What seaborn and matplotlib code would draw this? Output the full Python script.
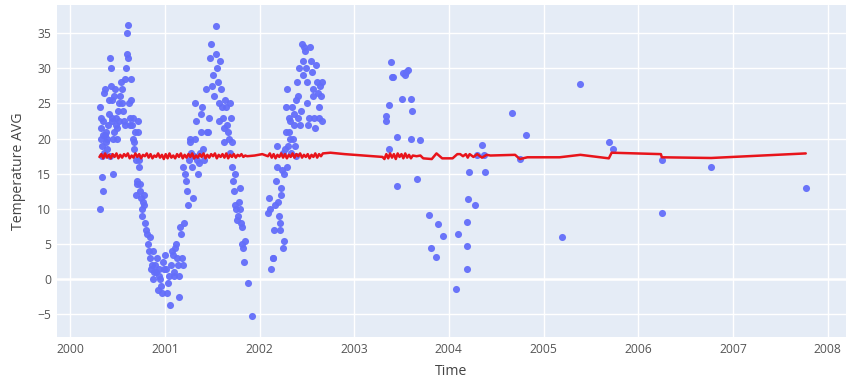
import numpy as np
import pandas as pd
import matplotlib
matplotlib.use("Agg")
import matplotlib.pyplot as plt
import matplotlib.dates as mdates
import seaborn as sns

# Daily average temperature readings (decimal year, degrees)
obs_years = [
    2000.318, 2000.320, 2000.323, 2000.326, 2000.329, 2000.332, 2000.335, 2000.339, 2000.343, 2000.347, 2000.351, 2000.355,
    2000.362, 2000.368, 2000.372, 2000.377, 2000.383, 2000.388, 2000.394, 2000.400, 2000.406, 2000.413, 2000.418,
    2000.424, 2000.430, 2000.434, 2000.438, 2000.442, 2000.447, 2000.452, 2000.456, 2000.461,
    2000.468, 2000.474, 2000.480, 2000.486, 2000.492, 2000.499, 2000.506, 2000.513, 2000.520,
    2000.531, 2000.538, 2000.546, 2000.553, 2000.561, 2000.569, 2000.577, 2000.585,
    2000.594, 2000.600, 2000.606, 2000.610, 2000.615, 2000.621, 2000.628, 2000.635, 2000.641,
    2000.648, 2000.654, 2000.660, 2000.666, 2000.673, 2000.680, 2000.688, 2000.694,
    2000.699, 2000.704, 2000.709, 2000.713, 2000.718, 2000.723, 2000.729, 2000.735,
    2000.742, 2000.749, 2000.756, 2000.763, 2000.770, 2000.778, 2000.786,
    2000.796, 2000.804, 2000.812, 2000.821, 2000.830, 2000.839,
    2000.848, 2000.856, 2000.864, 2000.872, 2000.881, 2000.890,
    2000.902, 2000.910, 2000.918, 2000.926, 2000.935, 2000.944,
    2000.955, 2000.964, 2000.973, 2000.982, 2000.993,
    2001.006, 2001.016, 2001.026, 2001.036, 2001.046,
    2001.060, 2001.068, 2001.076, 2001.084, 2001.093, 2001.102,
    2001.113, 2001.121, 2001.130, 2001.139, 2001.147, 2001.155,
    2001.165, 2001.172, 2001.180, 2001.188, 2001.198, 2001.207,
    2001.218, 2001.227, 2001.236, 2001.245, 2001.254, 2001.262,
    2001.270, 2001.279, 2001.288, 2001.297, 2001.306, 2001.315,
    2001.324, 2001.333, 2001.342, 2001.351, 2001.360, 2001.368,
    2001.378, 2001.388, 2001.398, 2001.408, 2001.418,
    2001.432, 2001.445, 2001.458, 2001.470,
    2001.483, 2001.493, 2001.503, 2001.513, 2001.524,
    2001.540, 2001.546, 2001.554, 2001.562, 2001.570, 2001.578,
    2001.588, 2001.596, 2001.605, 2001.614, 2001.623, 2001.631,
    2001.641, 2001.650, 2001.659, 2001.668, 2001.677, 2001.685,
    2001.693, 2001.700, 2001.707, 2001.715, 2001.722, 2001.730, 2001.738,
    2001.746, 2001.755, 2001.764, 2001.773, 2001.782, 2001.790,
    2001.798, 2001.805, 2001.813, 2001.820, 2001.828, 2001.835, 2001.843,
    2001.880, 2001.922,
    2002.095, 2002.105, 2002.115, 2002.125, 2002.138, 2002.148,
    2002.158, 2002.166, 2002.174, 2002.182, 2002.190, 2002.198, 2002.206, 2002.213,
    2002.221, 2002.227, 2002.233, 2002.239, 2002.245, 2002.251, 2002.257, 2002.263, 2002.269, 2002.276,
    2002.284, 2002.290, 2002.296, 2002.302, 2002.308, 2002.314, 2002.321, 2002.328, 2002.336,
    2002.347, 2002.354, 2002.361, 2002.368, 2002.375, 2002.382, 2002.389, 2002.396, 2002.403,
    2002.411, 2002.419, 2002.427, 2002.435, 2002.447, 2002.455, 2002.463,
    2002.474, 2002.482, 2002.490, 2002.498, 2002.507, 2002.516, 2002.525,
    2002.537, 2002.545, 2002.553, 2002.562, 2002.571, 2002.580, 2002.590,
    2002.601, 2002.609, 2002.617, 2002.625, 2002.633, 2002.641, 2002.650, 2002.658, 2002.666,
    2003.332, 2003.336, 2003.369, 2003.372, 2003.390, 2003.400, 2003.408, 2003.450, 2003.456,
    2003.506, 2003.516, 2003.537, 2003.550, 2003.569, 2003.598, 2003.598, 2003.608, 2003.667,
    2003.696, 2003.794, 2003.817, 2003.860, 2003.883, 2003.944,
    2004.076, 2004.097, 2004.189, 2004.197, 2004.197, 2004.206, 2004.216, 2004.277, 2004.294,
    2004.351, 2004.372, 2004.385, 2004.664, 2004.752, 2004.812,
    2005.199, 2005.385, 2005.695, 2005.731, 2006.248, 2006.248, 2006.769, 2007.769,
]
obs_temps = [
    10.0, 24.5, 23.0, 21.5, 20.0, 19.0, 17.5, 14.5, 12.5, 22.5, 20.5, 18.0,
    26.5, 27.0, 20.5, 19.5, 21.0, 18.5, 20.0, 22.0, 25.5, 23.5, 17.5,
    31.5, 30.0, 27.5, 25.5, 23.0, 22.5, 15.0, 20.0, 21.0,
    26.0, 27.0, 23.0, 22.0, 21.5, 20.0, 24.0, 25.0, 22.5,
    26.0, 28.0, 27.0, 25.0, 24.0, 22.5, 22.0, 28.5,
    30.0, 32.0, 35.0, 36.2, 31.5, 25.0, 23.0, 22.0, 28.5,
    25.5, 22.0, 20.0, 23.0, 18.5, 19.5, 21.0, 17.0,
    12.0, 13.5, 14.0, 22.5, 21.0, 17.0, 16.0, 12.5,
    13.5, 11.5, 10.0, 9.0, 11.0, 10.5, 12.0,
    8.0, 7.0, 6.5, 5.0, 4.0, 6.0,
    3.0, 1.5, 2.0, 0.0, 4.0, 1.0,
    2.0, 1.0, 3.0, -1.5, 1.5, 0.5,
    0.0, -1.0, -2.0, 2.5, 1.5,
    3.5, 1.5, -2.0, -0.5, 0.5,
    -3.6, 2.0, 4.0, 3.5, 1.0, 0.5,
    4.5, 5.0, 3.0, 2.0, -2.5, 0.5,
    7.5, 6.5, 3.0, 2.0, 16.0, 8.0,
    15.0, 14.0, 12.5, 10.5, 17.0, 20.0,
    19.5, 18.0, 16.0, 11.5, 17.5, 20.0,
    25.0, 22.5, 17.0, 15.0, 16.5, 18.0,
    21.0, 23.5, 24.5, 18.5, 17.0,
    27.0, 21.0, 21.0, 23.0,
    31.5, 33.5, 27.5, 29.0, 26.0,
    36.0, 32.0, 30.0, 28.0, 25.0, 22.5,
    31.0, 27.0, 24.5, 23.0, 21.5, 19.5,
    25.5, 24.5, 22.0, 21.0, 20.0, 18.0,
    25.0, 23.0, 19.5, 16.0, 14.0, 12.5, 10.5,
    15.0, 10.0, 8.5, 9.0, 11.0, 13.0,
    10.0, 8.0, 7.5, 5.0, 4.5, 2.5, 5.5,
    -0.5, -5.2,
    9.5, 11.5, 10.0, 1.5, 3.0, 3.0,
    7.0, 10.5, 14.0, 16.0, 19.0, 11.0, 9.0, 8.0,
    7.0, 12.0, 13.0, 15.5, 18.0, 4.5, 5.5, 15.0, 18.5, 21.0,
    24.5, 27.0, 16.0, 19.0, 21.0, 23.0, 22.5, 20.0, 18.0,
    24.5, 20.0, 22.0, 23.5, 19.0, 17.5, 25.5, 28.0, 23.0,
    26.0, 30.0, 22.0, 24.0, 33.5, 31.0, 29.0,
    33.0, 32.5, 30.0, 28.0, 25.0, 22.0, 23.0,
    33.0, 31.0, 29.5, 27.0, 26.0, 23.0, 21.5,
    30.5, 28.0, 26.5, 24.5, 23.0, 27.5, 26.0, 28.0, 22.5,
    22.5, 23.2, 24.8, 18.5, 30.9, 28.7, 28.8, 20.3, 13.3,
    25.6, 29.3, 29.0, 29.5, 29.8, 25.6, 19.9, 24.0, 14.3,
    19.8, 9.2, 4.5, 3.2, 7.8, 6.1,
    -1.4, 6.5, 1.4, 4.8, 8.1, 11.4, 15.2, 10.5, 17.7,
    19.1, 17.7, 15.2, 23.6, 17.1, 20.5,
    6.0, 27.7, 19.5, 18.5, 16.9, 9.5, 16.0, 13.0,
]

# Moving average of the readings (decimal year, degrees)
trend_years = [
    2000.31, 2000.33, 2000.35, 2000.37, 2000.39, 2000.41, 2000.43, 2000.45, 2000.47, 2000.49,
    2000.51, 2000.53, 2000.55, 2000.57, 2000.59, 2000.61, 2000.63, 2000.65, 2000.67, 2000.69,
    2000.71, 2000.73, 2000.75, 2000.77, 2000.79, 2000.81, 2000.83, 2000.85, 2000.87, 2000.89,
    2000.91, 2000.93, 2000.95, 2000.97, 2000.99, 2001.01, 2001.03, 2001.05, 2001.07, 2001.09,
    2001.11, 2001.13, 2001.15, 2001.17, 2001.19, 2001.21, 2001.23, 2001.25, 2001.27, 2001.29,
    2001.31, 2001.33, 2001.35, 2001.37, 2001.39, 2001.41, 2001.43, 2001.45, 2001.47, 2001.49,
    2001.51, 2001.53, 2001.55, 2001.57, 2001.59, 2001.61, 2001.63, 2001.65, 2001.67, 2001.69,
    2001.71, 2001.73, 2001.75, 2001.77, 2001.79, 2001.81, 2001.83, 2001.85, 2001.87,
    2001.95, 2002.03,
    2002.09, 2002.11, 2002.13, 2002.15, 2002.17, 2002.19, 2002.21, 2002.23, 2002.25, 2002.27,
    2002.29, 2002.31, 2002.33, 2002.35, 2002.37, 2002.39, 2002.41, 2002.43, 2002.45, 2002.47,
    2002.49, 2002.51, 2002.53, 2002.55, 2002.57, 2002.59, 2002.61, 2002.63, 2002.65, 2002.67,
    2002.75, 2002.90, 2003.10, 2003.30,
    2003.32, 2003.34, 2003.36, 2003.38, 2003.40, 2003.42, 2003.44, 2003.46, 2003.48, 2003.50,
    2003.52, 2003.54, 2003.56, 2003.58, 2003.60, 2003.62,
    2003.66, 2003.70, 2003.73, 2003.82, 2003.87, 2003.93, 2004.04, 2004.09, 2004.12, 2004.15,
    2004.18, 2004.20, 2004.22, 2004.26, 2004.30, 2004.35, 2004.40, 2004.44, 2004.70, 2004.75,
    2004.83, 2005.17, 2005.39, 2005.69, 2005.72, 2006.24, 2006.25, 2006.77, 2007.77,
]
trend_temps = [
    17.4, 17.8, 17.2, 17.9, 17.3, 17.7, 17.2, 17.8, 17.4, 17.9,
    17.2, 17.7, 17.3, 17.8, 17.5, 17.9, 17.2, 17.6, 17.3, 17.9,
    17.4, 17.8, 17.2, 17.7, 17.5, 17.9, 17.3, 17.8, 17.2, 17.6,
    17.4, 17.9, 17.3, 17.7, 17.1, 17.8, 17.2, 17.9, 17.3, 17.6,
    17.2, 17.8, 17.4, 17.9, 17.2, 17.7, 17.3, 17.8, 17.4, 17.9,
    17.2, 17.6, 17.3, 17.8, 17.4, 17.9, 17.2, 17.7, 17.3, 17.8,
    17.5, 17.9, 17.2, 17.7, 17.4, 17.8, 17.3, 17.9, 17.2, 17.7,
    17.4, 17.8, 17.3, 17.7, 17.5, 17.8, 17.4, 17.6, 17.5,
    17.6, 17.8,
    17.5, 17.9, 17.3, 17.8, 17.2, 17.7, 17.4, 17.9, 17.3, 17.8,
    17.2, 17.7, 17.4, 17.9, 17.3, 17.8, 17.5, 17.9, 17.3, 17.7,
    17.4, 17.8, 17.2, 17.7, 17.4, 17.9, 17.3, 17.8, 17.5, 17.9,
    18.0, 17.8, 17.6, 17.4,
    17.1, 17.8, 17.2, 17.9, 17.3, 17.8, 17.1, 17.9, 17.4, 17.8,
    17.2, 17.9, 17.3, 17.7, 17.2, 17.6,
    17.5, 17.6, 17.2, 17.1, 17.9, 17.2, 17.2, 17.8, 17.8, 17.5,
    17.8, 17.3, 17.8, 17.4, 17.8, 17.3, 17.7, 17.6, 17.7, 17.1,
    17.35, 17.35, 17.7, 17.2, 18.0, 17.8, 17.35, 17.25, 17.9,
]

year_ticks = [2000, 2001, 2002, 2003, 2004, 2005, 2006, 2007, 2008]
temp_ticks = [-5, 0, 5, 10, 15, 20, 25, 30, 35]


def decimal_year_to_date(years):
    years = np.asarray(years, dtype=float)
    return pd.Timestamp("2000-01-01") + pd.to_timedelta((years - 2000.0) * 365.25, unit="D")


obs = pd.DataFrame({"Time": decimal_year_to_date(obs_years), "Temperature AVG": obs_temps})
trend = pd.DataFrame({"Time": decimal_year_to_date(trend_years), "Temperature AVG": trend_temps})

sns.set_theme(style="darkgrid", rc={
    "axes.facecolor": "#E5ECF6",
    "grid.color": "white",
    "grid.linewidth": 1.0,
    "axes.edgecolor": "#E5ECF6",
})
plt.rcParams["font.family"] = ["Open Sans", "DejaVu Sans"]

fig = plt.figure(figsize=(8.48, 3.79), dpi=100)
ax = fig.add_axes([57 / 848, 1 - 337 / 379, (846 - 57) / 848, (337 - 5) / 379])

ax.axhline(0, color="white", linewidth=1.8, zorder=0.5)

sns.scatterplot(data=obs, x="Time", y="Temperature AVG", ax=ax, color="#636EFA",
                s=26, linewidth=0, alpha=0.95, zorder=2)
sns.lineplot(data=trend, x="Time", y="Temperature AVG", ax=ax, color="#E8141B",
             linewidth=1.8, estimator=None, sort=True, zorder=3)

ax.set_xlim(decimal_year_to_date([1999.862])[0], decimal_year_to_date([2008.195])[0])
ax.set_ylim(-8.2, 39.0)

ax.set_xticks([pd.Timestamp(f"{y}-01-01") for y in year_ticks])
ax.xaxis.set_major_formatter(mdates.DateFormatter("%Y"))
ax.set_yticks(temp_ticks)

for s in ax.spines.values():
    s.set_visible(False)
ax.tick_params(axis="both", length=0, labelsize=8.7, labelcolor="#555555")
ax.tick_params(axis="x", pad=4)
ax.tick_params(axis="y", pad=4)

ax.set_xlabel("Time", fontsize=10.2, color="#444444", labelpad=6)
ax.set_ylabel("Temperature AVG", fontsize=10.2, color="#444444", labelpad=8)

fig.savefig("out.png", dpi=100)
